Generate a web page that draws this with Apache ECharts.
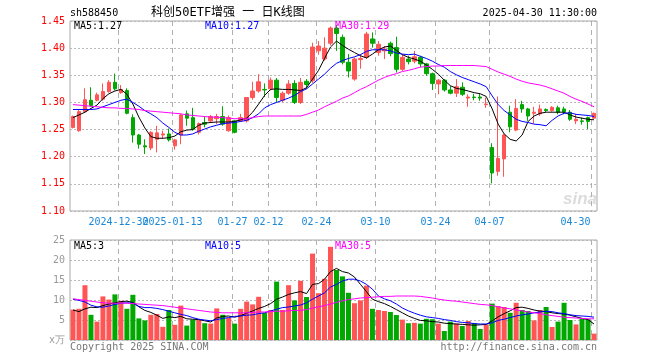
<!DOCTYPE html>
<html><head><meta charset="utf-8">
<script src="https://cdn.jsdelivr.net/npm/echarts@6/dist/echarts.min.js"></script>
<style>html,body{margin:0;padding:0;background:#fff}#c{width:660px;height:360px}</style>
</head><body><div id="c"></div>
<script>
const dates = [
'2024-12-18','2024-12-19','2024-12-20','2024-12-23','2024-12-24','2024-12-25','2024-12-26','2024-12-27','2024-12-30','2024-12-31',
'2025-01-02','2025-01-03','2025-01-06','2025-01-07','2025-01-08','2025-01-09','2025-01-10','2025-01-13','2025-01-14','2025-01-15',
'2025-01-16','2025-01-17','2025-01-20','2025-01-21','2025-01-22','2025-01-23','2025-01-24','2025-01-27','2025-02-05','2025-02-06',
'2025-02-07','2025-02-10','2025-02-11','2025-02-12','2025-02-13','2025-02-14','2025-02-17','2025-02-18','2025-02-19','2025-02-20',
'2025-02-21','2025-02-24','2025-02-25','2025-02-26','2025-02-27','2025-02-28','2025-03-03','2025-03-04','2025-03-05','2025-03-06',
'2025-03-07','2025-03-10','2025-03-11','2025-03-12','2025-03-13','2025-03-14','2025-03-17','2025-03-18','2025-03-19','2025-03-20',
'2025-03-21','2025-03-24','2025-03-25','2025-03-26','2025-03-27','2025-03-28','2025-03-31','2025-04-01','2025-04-02','2025-04-03',
'2025-04-07','2025-04-08','2025-04-09','2025-04-10','2025-04-11','2025-04-14','2025-04-15','2025-04-16','2025-04-17','2025-04-18',
'2025-04-21','2025-04-22','2025-04-23','2025-04-24','2025-04-25','2025-04-28','2025-04-29','2025-04-30'];
const tickDates = ['2024-12-30','2025-01-13','2025-01-27','2025-02-12','2025-02-24','2025-03-10','2025-03-24','2025-04-07','2025-04-30'];
const tickLabels = ['2024-12-30','2025-01-13','01-27','02-12','02-24','03-10','03-24','04-07','04-30'];

const open = [
1.254,1.248,1.283,1.304,1.304,1.306,1.320,1.337,1.318,1.322,
1.272,1.240,1.220,1.216,1.232,1.240,1.242,1.220,1.240,1.279,
1.272,1.245,1.263,1.266,1.270,1.274,1.248,1.266,1.266,1.266,
1.309,1.321,1.324,1.325,1.341,1.304,1.317,1.335,1.300,1.339,
1.340,1.395,1.380,1.409,1.437,1.420,1.374,1.343,1.379,1.383,
1.417,1.392,1.395,1.409,1.401,1.361,1.380,1.376,1.383,1.371,
1.353,1.334,1.341,1.323,1.317,1.328,1.308,1.310,1.310,1.296,
1.217,1.173,1.196,1.282,1.249,1.296,1.288,1.280,1.279,1.287,
1.285,1.290,1.288,1.282,1.266,1.266,1.272,1.271];
const close = [
1.274,1.283,1.305,1.294,1.314,1.320,1.337,1.325,1.324,1.280,
1.240,1.223,1.218,1.245,1.244,1.242,1.231,1.231,1.277,1.271,
1.251,1.261,1.260,1.274,1.274,1.260,1.272,1.245,1.272,1.309,
1.321,1.338,1.323,1.341,1.309,1.317,1.334,1.300,1.337,1.333,
1.402,1.404,1.400,1.437,1.427,1.374,1.358,1.380,1.381,1.426,
1.409,1.407,1.398,1.390,1.361,1.383,1.375,1.384,1.371,1.353,
1.335,1.341,1.323,1.317,1.329,1.315,1.310,1.309,1.308,1.297,
1.170,1.197,1.240,1.255,1.289,1.288,1.275,1.282,1.288,1.285,
1.291,1.282,1.283,1.269,1.269,1.265,1.265,1.280];
const low = [
1.252,1.246,1.281,1.292,1.302,1.303,1.318,1.322,1.316,1.278,
1.226,1.215,1.205,1.212,1.208,1.233,1.228,1.213,1.223,1.257,
1.248,1.241,1.254,1.262,1.260,1.257,1.246,1.243,1.264,1.263,
1.305,1.318,1.310,1.322,1.300,1.300,1.314,1.297,1.297,1.325,
1.336,1.388,1.377,1.405,1.395,1.370,1.346,1.340,1.362,1.380,
1.401,1.386,1.380,1.385,1.355,1.358,1.370,1.372,1.365,1.349,
1.323,1.315,1.320,1.315,1.310,1.312,1.292,1.304,1.303,1.290,
1.151,1.165,1.163,1.245,1.247,1.281,1.266,1.261,1.275,1.282,
1.283,1.278,1.278,1.266,1.260,1.259,1.251,1.270];
const high = [
1.276,1.286,1.326,1.328,1.318,1.335,1.341,1.353,1.332,1.326,
1.278,1.242,1.232,1.247,1.257,1.248,1.252,1.233,1.279,1.285,
1.290,1.263,1.274,1.277,1.279,1.293,1.276,1.268,1.279,1.310,
1.338,1.352,1.335,1.346,1.345,1.320,1.341,1.341,1.345,1.343,
1.410,1.413,1.420,1.440,1.443,1.425,1.389,1.383,1.389,1.430,
1.429,1.413,1.404,1.412,1.421,1.389,1.386,1.395,1.386,1.373,
1.355,1.343,1.343,1.330,1.343,1.337,1.315,1.316,1.316,1.309,
1.225,1.311,1.242,1.294,1.306,1.303,1.290,1.292,1.296,1.289,
1.293,1.294,1.292,1.286,1.279,1.272,1.274,1.281];
const volume = [
7.6,7.8,13.7,6.3,4.6,10.9,10.1,11.4,9.8,7.8,
11.3,5.4,4.9,6.3,6.5,3.3,7.5,3.8,8.6,3.6,
5.1,5.0,4.2,4.1,7.9,6.3,5.5,4.1,7.8,9.6,
8.9,10.8,6.8,7.5,14.6,7.5,13.7,9.9,14.8,10.75,
21.6,11.7,15.3,23.3,17.5,15.9,11.8,9.2,9.9,13.6,
7.8,7.5,7.25,7.0,6.25,5.1,4.2,4.3,4.1,5.3,
5.2,4.1,2.25,4.6,4.1,3.5,4.75,4.25,2.75,3.9,
9.1,8.5,8.25,6.8,9.3,7.5,7.25,4.9,7.5,8.25,
3.25,4.6,9.3,5.0,3.9,5.3,5.2,1.6];
const ma5 = [
1.272,1.277,1.282,1.289,1.295,1.307,1.316,1.321,1.324,1.315,
1.297,1.273,1.253,1.237,1.234,1.234,1.235,1.238,1.246,1.249,
1.250,1.258,1.262,1.263,1.264,1.264,1.264,1.265,1.268,1.271,
1.282,1.297,1.313,1.324,1.325,1.324,1.324,1.323,1.322,1.327,
1.343,1.359,1.381,1.402,1.413,1.405,1.398,1.392,1.386,1.382,
1.389,1.397,1.402,1.404,1.396,1.388,1.383,1.380,1.376,1.369,
1.361,1.352,1.341,1.331,1.326,1.324,1.321,1.318,1.316,1.311,
1.288,1.260,1.242,1.232,1.229,1.240,1.265,1.275,1.280,1.282,
1.282,1.282,1.282,1.277,1.273,1.271,1.269,1.268];
const ma10 = [
1.287,1.287,1.287,1.287,1.288,1.292,1.296,1.300,1.304,1.306,
1.300,1.293,1.285,1.279,1.272,1.262,1.254,1.245,1.240,1.240,
1.242,1.247,1.251,1.255,1.258,1.261,1.262,1.263,1.265,1.267,
1.272,1.279,1.290,1.296,1.300,1.304,1.308,1.313,1.320,1.325,
1.334,1.343,1.352,1.363,1.372,1.377,1.381,1.384,1.388,1.394,
1.397,1.397,1.397,1.395,1.391,1.389,1.388,1.389,1.385,1.381,
1.376,1.370,1.365,1.357,1.351,1.346,1.342,1.338,1.334,1.329,
1.312,1.296,1.285,1.277,1.269,1.265,1.263,1.260,1.259,1.257,
1.267,1.275,1.280,1.281,1.278,1.277,1.276,1.274];
const ma30 = [
1.296,1.295,1.294,1.293,1.292,1.291,1.290,1.290,1.289,1.289,
1.288,1.287,1.285,1.284,1.283,1.282,1.281,1.280,1.279,1.277,
1.276,1.275,1.274,1.273,1.273,1.272,1.271,1.270,1.270,1.270,
1.272,1.274,1.275,1.275,1.275,1.275,1.275,1.275,1.275,1.278,
1.282,1.286,1.292,1.297,1.302,1.308,1.312,1.318,1.324,1.329,
1.335,1.341,1.346,1.350,1.353,1.357,1.359,1.362,1.365,1.366,
1.367,1.367,1.368,1.368,1.368,1.368,1.368,1.368,1.367,1.366,
1.361,1.356,1.352,1.348,1.343,1.339,1.336,1.334,1.332,1.329,
1.325,1.321,1.317,1.311,1.306,1.302,1.297,1.292];
const vma5 = [
7.5,7.1,7.8,8.2,8.1,8.6,9.0,9.3,9.6,9.7,
9.4,8.3,7.4,6.9,6.2,5.4,5.8,5.6,5.9,5.3,
5.2,5.1,4.8,4.5,5.5,5.9,6.0,5.7,6.1,6.7,
7.25,7.9,8.4,9.1,10.2,10.75,11.4,11.8,12.1,11.6,
13.9,14.1,15.2,17.1,17.9,17.1,16.75,15.75,13.9,12.1,
10.2,9.6,9.1,8.4,7.6,6.8,6.0,5.4,4.9,4.8,
4.6,4.5,4.2,4.1,4.0,3.9,3.8,3.7,3.8,3.9,
4.8,5.8,6.6,7.3,8.1,8.2,7.9,7.5,7.2,7.1,
6.8,6.6,6.5,6.2,5.8,5.4,5.1,4.0];
const vma10 = [
10.2,9.9,9.5,8.7,8.3,8.2,8.5,8.9,9.2,9.3,
9.2,8.4,8.1,8.1,7.9,7.6,7.2,6.8,6.4,6.1,
5.6,5.2,5.0,4.8,5.1,5.4,5.6,5.9,6.0,6.2,
6.3,6.6,6.8,7.25,7.7,8.1,8.25,8.5,8.75,9.3,
10.2,11.0,11.8,13.25,13.9,14.75,15.2,15.2,14.75,13.9,
12.7,11.0,10.3,9.8,9.0,8.0,7.3,6.7,6.2,5.8,
5.6,5.4,5.1,4.9,4.6,4.4,4.3,4.1,4.0,4.0,
4.3,4.9,5.2,5.6,6.0,6.3,6.5,6.8,7.0,7.2,
7.1,6.8,6.6,6.3,6.1,6.0,5.9,5.7];
const vma30 = [
10.3,10.1,9.9,9.7,9.5,9.3,9.2,9.2,9.2,9.2,
9.1,9.0,8.9,8.8,8.7,8.6,8.4,8.2,8.0,7.8,
7.6,7.4,7.2,7.0,6.9,6.8,6.8,6.8,6.8,6.8,
6.9,7.0,7.0,7.1,7.2,7.2,7.3,7.4,7.4,7.6,
8.0,8.3,8.6,9.0,9.4,9.8,10.1,10.3,10.5,10.6,
10.7,10.8,10.9,10.9,11.0,11.0,11.0,11.0,10.9,10.7,
10.5,10.2,10.0,9.8,9.7,9.5,9.3,9.1,8.9,8.8,
8.6,8.3,8.0,7.8,7.5,7.3,7.0,6.8,6.6,6.3,
6.1,5.9,5.7,5.6,5.5,5.4,5.3,5.3];

const RED = '#ff5555', GREEN = '#00a800', TICKBLUE = '#1a88d8';
const MONO = "'DejaVu Sans Mono', 'Liberation Mono', monospace";

const candleData = dates.map((d, i) => [open[i], close[i], low[i], high[i]]);
const volData = volume.map((v, i) => ({ value: v, itemStyle: { color: close[i] >= open[i] ? RED : GREEN } }));
const tickIdx = tickDates.map((d) => dates.indexOf(d));

function line(name, data, color, xi, yi) {
  return { name, type: 'line', data, xAxisIndex: xi, yAxisIndex: yi, symbol: 'none', showSymbol: false,
    lineStyle: { color, width: 1 }, itemStyle: { color }, z: 5, silent: true };
}
// vertical dashed date lines (at band boundaries) + date labels, positioned by the category axis
function dateLines(xi, yi, yRef, withLabels) {
  return {
    type: 'custom', xAxisIndex: xi, yAxisIndex: yi, silent: true, clip: false, z: 1,
    data: tickIdx.map((ix, k) => [ix, yRef, k]),
    renderItem: (params, api) => {
      const ix = api.value(0), k = api.value(2);
      const bw = api.size([1, 0])[0];
      const x = Math.round(api.coord([ix, api.value(1)])[0] - bw / 2) + 0.5;
      const cs = params.coordSys;
      const children = [{ type: 'line', shape: { x1: x, y1: cs.y, x2: x, y2: cs.y + cs.height },
        style: { stroke: '#b0b0b0', lineDash: [5, 4], lineWidth: 1 } }];
      if (withLabels) {
        const last = k === tickLabels.length - 1;
        children.push({ type: 'text', x: last ? x - 1 : x, y: cs.y + cs.height + 11,
          style: { text: tickLabels[k], fill: TICKBLUE, font: '10px ' + MONO, align: last ? 'right' : 'center', verticalAlign: 'middle' } });
      }
      return { type: 'group', children };
    }
  };
}
const gridBase = { left: 70, right: 63, show: true, borderColor: '#a8a8a8', borderWidth: 1, backgroundColor: 'transparent' };
const xBase = { type: 'category', data: dates, boundaryGap: true, axisLine: { show: false }, axisTick: { show: false },
  axisLabel: { show: false }, splitLine: { show: false } };

const option = {
  animation: false,
  backgroundColor: '#fff',
  grid: [Object.assign({ top: 21, height: 190 }, gridBase), Object.assign({ top: 240, height: 100 }, gridBase)],
  xAxis: [Object.assign({ gridIndex: 0 }, xBase), Object.assign({ gridIndex: 1 }, xBase)],
  yAxis: [
    { type: 'value', gridIndex: 0, min: 1.10, max: 1.45, interval: 0.05,
      axisLine: { show: false }, axisTick: { show: false },
      axisLabel: { color: '#ff0000', fontFamily: MONO, fontSize: 10, margin: 5, formatter: (v) => v.toFixed(2) },
      splitLine: { lineStyle: { color: '#b8b8b8', type: [2, 2], width: 1 } } },
    { type: 'value', gridIndex: 1, min: 0, max: 25, interval: 5,
      axisLine: { show: false }, axisTick: { show: false },
      axisLabel: { color: '#999999', fontFamily: MONO, fontSize: 10, margin: 5, formatter: (v) => v === 0 ? 'x万' : String(v) },
      splitLine: { lineStyle: { color: '#b8b8b8', type: [2, 2], width: 1 } } }
  ],
  series: [
    dateLines(0, 0, 1.2, true),
    dateLines(1, 1, 1, false),
    { name: 'K', type: 'candlestick', data: candleData, xAxisIndex: 0, yAxisIndex: 0, barWidth: 4, silent: true, z: 3,
      itemStyle: { color: RED, color0: GREEN, borderColor: RED, borderColor0: GREEN, borderWidth: 1 } },
    line('MA5', ma5, '#000000', 0, 0),
    line('MA10', ma10, '#0000ff', 0, 0),
    line('MA30', ma30, '#ff00ff', 0, 0),
    { name: 'VOL', type: 'bar', data: volData, xAxisIndex: 1, yAxisIndex: 1, barWidth: 5, silent: true, z: 3 },
    line('VMA5', vma5, '#000000', 1, 1),
    line('VMA10', vma10, '#0000ff', 1, 1),
    line('VMA30', vma30, '#ff00ff', 1, 1)
  ],
  graphic: [
    { type: 'text', x: 70, y: 13, style: { text: 'sh588450', fill: '#000', font: '10px ' + MONO, align: 'left', verticalAlign: 'middle' } },
    { type: 'text', x: 151, y: 13, style: { text: '科创50ETF增强 一 日K线图', fill: '#000', font: "12px 'DejaVu Sans Mono', 'Noto Sans CJK SC'", align: 'left', verticalAlign: 'middle' } },
    { type: 'text', x: 597, y: 13, style: { text: '2025-04-30 11:30:00', fill: '#000', font: '10px ' + MONO, align: 'right', verticalAlign: 'middle' } },
    { type: 'text', x: 74, y: 26, z: 10, style: { text: 'MA5:1.27', fill: '#000', font: '10px ' + MONO, align: 'left', verticalAlign: 'middle' } },
    { type: 'text', x: 205, y: 26, z: 10, style: { text: 'MA10:1.27', fill: '#0000ff', font: '10px ' + MONO, align: 'left', verticalAlign: 'middle' } },
    { type: 'text', x: 335, y: 26, z: 10, style: { text: 'MA30:1.29', fill: '#ff00ff', font: '10px ' + MONO, align: 'left', verticalAlign: 'middle' } },
    { type: 'text', x: 74, y: 246, z: 10, style: { text: 'MA5:3', fill: '#000', font: '10px ' + MONO, align: 'left', verticalAlign: 'middle' } },
    { type: 'text', x: 205, y: 246, z: 10, style: { text: 'MA10:5', fill: '#0000ff', font: '10px ' + MONO, align: 'left', verticalAlign: 'middle' } },
    { type: 'text', x: 335, y: 246, z: 10, style: { text: 'MA30:5', fill: '#ff00ff', font: '10px ' + MONO, align: 'left', verticalAlign: 'middle' } },
    { type: 'text', x: 70, y: 347, style: { text: 'Copyright 2025 SINA.COM', fill: '#777', font: '10px ' + MONO, align: 'left', verticalAlign: 'middle' } },
    { type: 'text', x: 597, y: 347, style: { text: 'http://finance.sina.com.cn', fill: '#777', font: '10px ' + MONO, align: 'right', verticalAlign: 'middle' } },
    { type: 'text', x: 580, y: 199, z: 0, style: { text: 'sina', fill: '#dcdcdc', font: 'italic bold 17px Arial, sans-serif', align: 'center', verticalAlign: 'middle' } }
  ]
};
const chart = echarts.init(document.getElementById('c'));
chart.setOption(option);
</script></body></html>
